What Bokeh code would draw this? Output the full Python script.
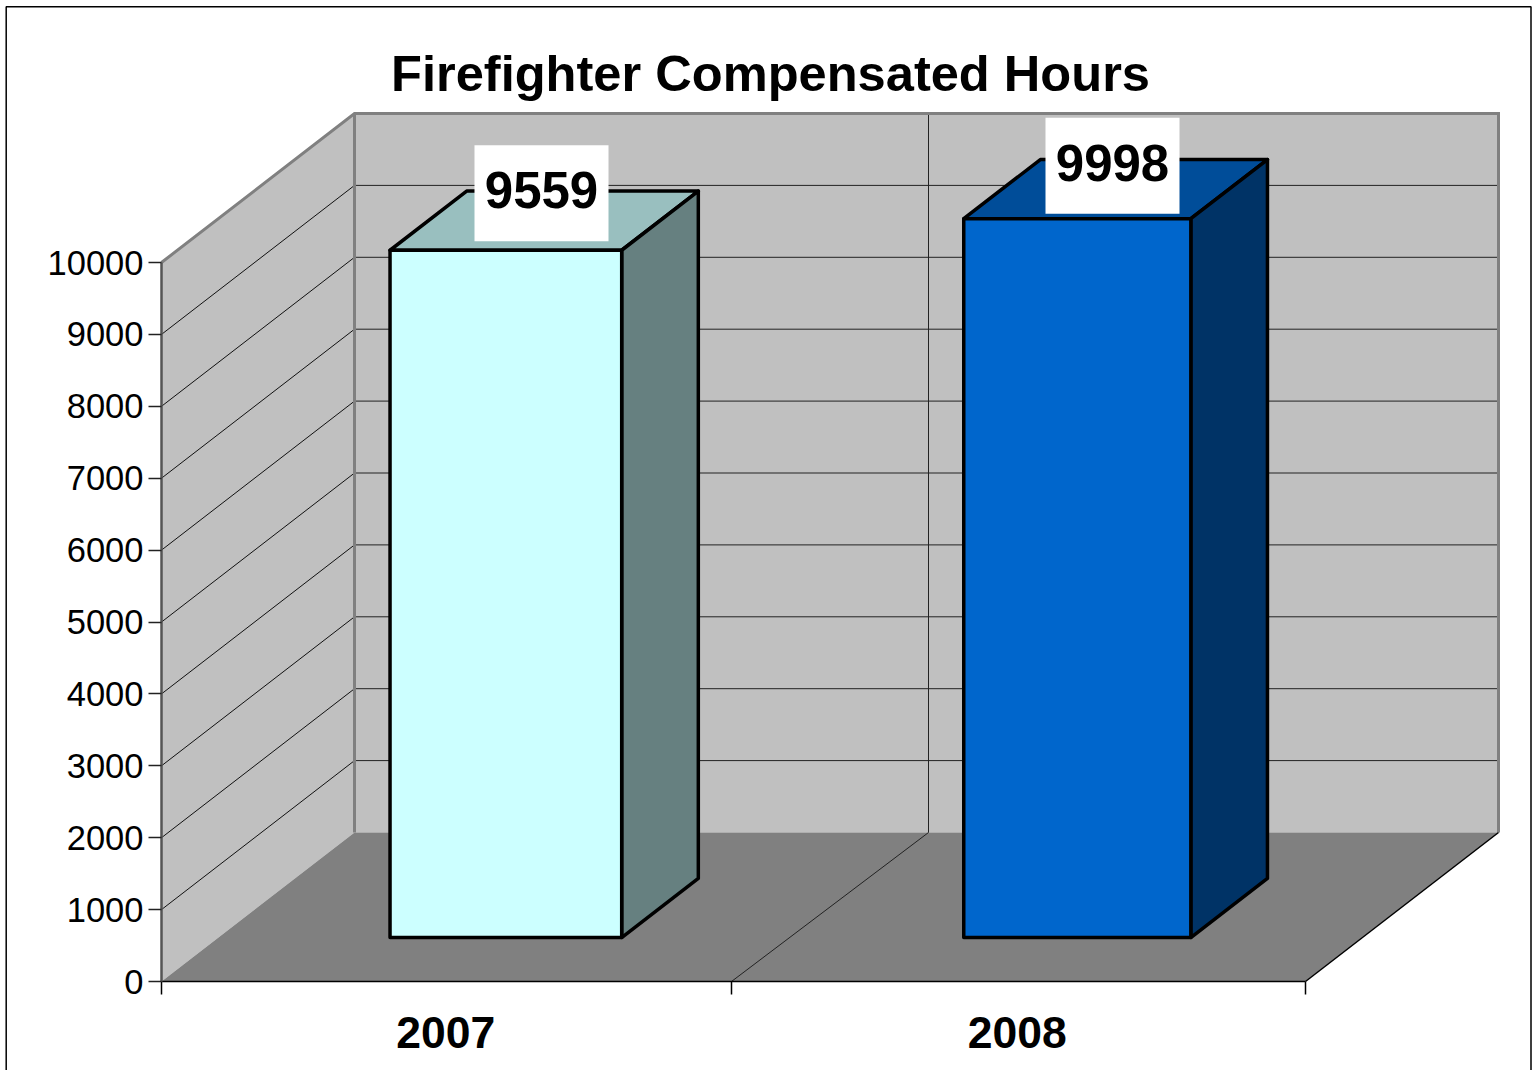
from bokeh.plotting import figure
from bokeh.models import LinearAxis, FixedTicker, Range1d
from bokeh.embed import file_html
from bokeh.resources import INLINE
from bokeh.core.properties import value

# ---- data
categories = ["2007", "2008"]
hours = [9559, 9998]
y_ticks = [0, 1000, 2000, 3000, 4000, 5000, 6000, 7000, 8000, 9000, 10000]
title_text = "Firefighter Compensated Hours"

# ---- colours
front_cols = ["#CCFFFF", "#0066CC"]
top_cols = ["#99BFBF", "#004D99"]
side_cols = ["#668080", "#003366"]
WALL, FLOOR = "#C0C0C0", "#808080"

# ---- layout
W, H = 1536, 1070
X0_PX, Y0_PX = 161, 981          # origin of the front-left corner
PX_PER_CAT = 572
PX_PER_VAL = 0.0719
DEPTH_X_PX, DEPTH_Y_PX = 193, 149
BAR_LEFT = [0.30, 0.303]
BAR_RIGHT = [0.705, 0.70]
BAR_D0, BAR_D1 = 0.295, 0.692
MID_FRONT, MID_BACK = 0.9965, 1.0035
CAT_LABEL_POS = [0.497, 1.496]
YMAX = 10000
NCAT = len(categories)

xr = Range1d(-X0_PX / PX_PER_CAT, (W - X0_PX) / PX_PER_CAT)
yr = Range1d(-(H - Y0_PX) / PX_PER_VAL, Y0_PX / PX_PER_VAL)


def X(c, d=0.0):
    return c + d * DEPTH_X_PX / PX_PER_CAT


def Y(v, d=0.0):
    return v + d * DEPTH_Y_PX / PX_PER_VAL


def px_x(px):
    return (px - X0_PX) / PX_PER_CAT


def px_y(py):
    return (Y0_PX - py) / PX_PER_VAL


p = figure(width=W, height=H, x_range=xr, y_range=yr, output_backend="svg",
           toolbar_location=None, min_border=0, outline_line_color=None,
           background_fill_color="white", border_fill_color="white")
p.grid.visible = False

# page frame
p.line([px_x(5.7), px_x(5.7), px_x(1530.5), px_x(1530.5)],
       [px_y(1070), px_y(6.3), px_y(6.3), px_y(1070)], line_color="black", line_width=1.5)

# walls and floor
p.patch([X(0), X(0, 1), X(0, 1), X(0)], [Y(0), Y(0, 1), Y(YMAX, 1), Y(YMAX)],
        fill_color=WALL, line_color=None)
p.patch([X(0, 1), X(NCAT, 1), X(NCAT, 1), X(0, 1)], [Y(0, 1), Y(0, 1), Y(YMAX, 1), Y(YMAX, 1)],
        fill_color=WALL, line_color=None)
p.patch([X(0), X(NCAT), X(NCAT, 1), X(0, 1)], [Y(0), Y(0), Y(0, 1), Y(0, 1)],
        fill_color=FLOOR, line_color=None)

# gridlines
grid_vals = [v for v in y_ticks if 0 < v < YMAX]
p.segment(x0=[X(0)] * len(grid_vals), y0=grid_vals,
          x1=[X(0, 1)] * len(grid_vals), y1=[Y(v, 1) for v in grid_vals],
          line_color="#111111", line_width=1)
p.segment(x0=[X(0, 1)] * len(grid_vals), y0=[Y(v, 1) for v in grid_vals],
          x1=[X(NCAT, 1)] * len(grid_vals), y1=[Y(v, 1) for v in grid_vals],
          line_color="#222222", line_width=1)
p.line([X(MID_BACK, 1), X(MID_BACK, 1), X(MID_FRONT)], [Y(YMAX, 1), Y(0, 1), Y(0)],
       line_color="#222222", line_width=1)

# wall edges
p.line([X(0), X(0, 1), X(NCAT, 1), X(NCAT, 1)], [Y(YMAX), Y(YMAX, 1), Y(YMAX, 1), Y(0, 1)],
       line_color="#808080", line_width=3, line_join="miter")
p.line([X(0, 1), X(0, 1)], [Y(YMAX, 1), Y(0, 1)], line_color="#808080", line_width=3)
p.line([X(NCAT), X(NCAT, 1)], [Y(0), Y(0, 1)], line_color="black", line_width=1.5)

# bars
for i, v in enumerate(hours):
    l, r = i + BAR_LEFT[i], i + BAR_RIGHT[i]
    fx = [X(l, BAR_D0), X(r, BAR_D0), X(r, BAR_D0), X(l, BAR_D0)]
    fy = [Y(0, BAR_D0), Y(0, BAR_D0), Y(v, BAR_D0), Y(v, BAR_D0)]
    sx = [X(r, BAR_D0), X(r, BAR_D1), X(r, BAR_D1), X(r, BAR_D0)]
    sy = [Y(0, BAR_D0), Y(0, BAR_D1), Y(v, BAR_D1), Y(v, BAR_D0)]
    tx = [X(l, BAR_D0), X(r, BAR_D0), X(r, BAR_D1), X(l, BAR_D1)]
    ty = [Y(v, BAR_D0), Y(v, BAR_D0), Y(v, BAR_D1), Y(v, BAR_D1)]
    for xs, ys, col in ((tx, ty, top_cols[i]), (sx, sy, side_cols[i]), (fx, fy, front_cols[i])):
        p.patch(xs, ys, fill_color=col, line_color="black", line_width=3.5, line_join="round")

# value labels on white boxes, placed relative to each bar's top
LABEL_X_PX = [541, 1112]
BOX_W_PX, BOX_H_PX = 134, 96
BOX_BOTTOM_GAP_PX = [9, 5]
for i, v in enumerate(hours):
    top_py = Y0_PX - PX_PER_VAL * v - BAR_D0 * DEPTH_Y_PX
    bottom_py = top_py - BOX_BOTTOM_GAP_PX[i]
    cx = LABEL_X_PX[i]
    p.quad(left=px_x(cx - BOX_W_PX / 2), right=px_x(cx + BOX_W_PX / 2),
           bottom=px_y(bottom_py), top=px_y(bottom_py - BOX_H_PX),
           fill_color="white", line_color=None)
    p.text(x=[px_x(cx)], y=[px_y(bottom_py - 51)], text=[str(v)], text_align="center",
           text_baseline="middle", text_font=value("Liberation Sans"), text_font_style="bold",
           text_font_size="51px", text_color="black")

# title
p.text(x=[px_x(770)], y=[px_y(72.5)], text=[title_text], text_align="center", text_baseline="middle",
       text_font=value("Liberation Sans"), text_font_style="bold", text_font_size="50.6px",
       text_color="black")

# axes
ya = p.yaxis[0]
ya.fixed_location = 0
ya.ticker = FixedTicker(ticks=y_ticks)
ya.bounds = (0, YMAX)
ya.axis_line_color = "#555555"
ya.axis_line_width = 2.5
ya.major_tick_out = 13
ya.major_tick_in = 0
ya.major_tick_line_color = "#222222"
ya.major_tick_line_width = 1.5
ya.minor_tick_line_color = None
ya.major_label_standoff = 5
ya.major_label_text_font = "Liberation Sans"
ya.major_label_text_font_size = "34.5px"
ya.major_label_text_color = "black"

xa = p.xaxis[0]
xa.fixed_location = 0
xa.bounds = (0, NCAT)
xa.ticker = FixedTicker(ticks=[0, MID_FRONT, NCAT])
xa.major_label_overrides = {0: "", MID_FRONT: "", NCAT: ""}
xa.axis_line_color = "black"
xa.axis_line_width = 1.5
xa.major_tick_out = 13
xa.major_tick_in = 0
xa.major_tick_line_color = "black"
xa.major_tick_line_width = 1.5
xa.minor_tick_line_color = None

xl = LinearAxis(fixed_location=0, ticker=FixedTicker(ticks=CAT_LABEL_POS),
                major_label_overrides=dict(zip(CAT_LABEL_POS, categories)),
                axis_line_color=None, major_tick_line_color=None, minor_tick_line_color=None,
                major_tick_out=0, major_tick_in=0, major_label_standoff=35,
                major_label_text_font="Liberation Sans", major_label_text_font_style="bold",
                major_label_text_font_size="44.5px", major_label_text_color="black")
p.add_layout(xl, "below")

open("out.html", "w").write(file_html(p, INLINE))
